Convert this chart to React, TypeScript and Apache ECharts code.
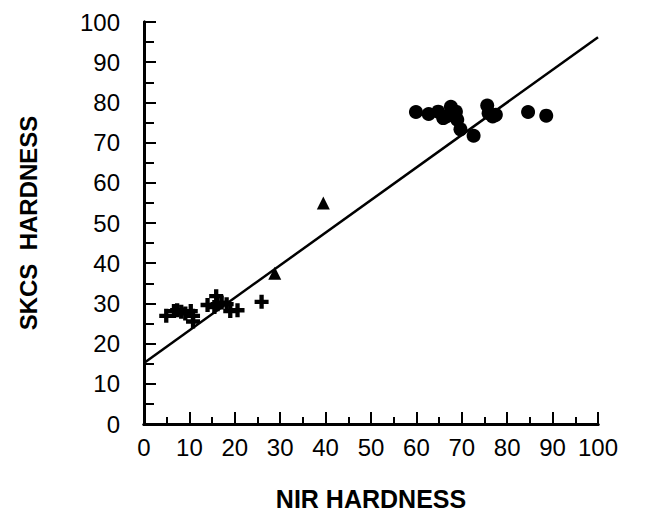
import React, { useEffect, useRef } from "react";
import * as echarts from "echarts";

const xTicks = [0, 10, 20, 30, 40, 50, 60, 70, 80, 90, 100];
const yTicks = [0, 10, 20, 30, 40, 50, 60, 70, 80, 90, 100];

const softWheat: number[][] = [
  [4.9, 26.9], [6.6, 28.1], [7.3, 28.3], [8.2, 27.9], [9.1, 27.5],
  [10.3, 28.1], [10.8, 26.9], [10.8, 25.5], [14.0, 29.6], [15.5, 29.1],
  [15.9, 31.8], [16.2, 29.8], [17.1, 30.2], [18.2, 29.8], [19.0, 28.1],
  [20.6, 28.3], [25.9, 30.4],
];

const intermediate: number[][] = [
  [28.8, 37.5], [39.5, 55.0],
];

const hardWheat: number[][] = [
  [59.9, 77.6], [62.7, 77.1], [64.8, 77.7], [65.9, 76.1], [66.6, 76.5],
  [67.6, 78.9], [68.7, 77.7], [69.0, 75.7], [69.7, 73.3], [72.6, 71.7],
  [75.6, 79.2], [75.9, 77.3], [76.8, 76.5], [77.5, 76.9], [84.6, 77.6],
  [88.6, 76.7],
];

const fitLine: number[][] = [
  [0, 15.2], [100, 96.2],
];

const PLUS = "path://M4.5,0H8.5V4.5H13V8.5H8.5V13H4.5V8.5H0V4.5H4.5Z";

export default function App() {
  const ref = useRef<HTMLDivElement>(null);
  useEffect(() => {
    if (!ref.current) return;
    const chart = echarts.init(ref.current, null, { renderer: "svg" });
    const axisLine = { show: true, lineStyle: { color: "#000", width: 3 } };
    const font = "Liberation Sans, Arial, sans-serif";
    chart.setOption({
      animation: false,
      backgroundColor: "#fff",
      grid: { left: 136, right: 39, top: 14, bottom: 83, containLabel: false },
      xAxis: [
        {
          type: "value",
          min: 0,
          max: 100,
          interval: 10,
          position: "bottom",
          name: "NIR HARDNESS",
          nameLocation: "middle",
          nameGap: 62,
          nameTextStyle: { fontFamily: font, fontWeight: "bold", fontSize: 25, color: "#000" },
          axisLine,
          axisTick: { show: true, inside: true, length: 12, lineStyle: { color: "#000", width: 2 } },
          minorTick: { show: true, splitNumber: 2, length: 7, lineStyle: { color: "#000", width: 2 } },
          splitLine: { show: false },
          axisLabel: {
            margin: 11,
            fontFamily: font,
            fontSize: 24,
            color: "#000",
            formatter: (v: number) => (xTicks.includes(v) ? String(v) : ""),
          },
        },
        {
          type: "value",
          min: 0,
          max: 100,
          position: "top",
          axisLine,
          axisTick: { show: false },
          axisLabel: { show: false },
          splitLine: { show: false },
        },
      ],
      yAxis: [
        {
          type: "value",
          min: 0,
          max: 100,
          interval: 10,
          position: "left",
          name: "SKCS  HARDNESS",
          nameLocation: "middle",
          nameGap: 104,
          nameTextStyle: { fontFamily: font, fontWeight: "bold", fontSize: 24, color: "#000" },
          axisLine,
          axisTick: { show: true, inside: true, length: 12, lineStyle: { color: "#000", width: 2 } },
          minorTick: { show: true, splitNumber: 2, length: 10, lineStyle: { color: "#000", width: 2 } },
          splitLine: { show: false },
          axisLabel: {
            margin: 24,
            fontFamily: font,
            fontSize: 24,
            color: "#000",
            formatter: (v: number) => (yTicks.includes(v) ? String(v) : ""),
          },
        },
        {
          type: "value",
          min: 0,
          max: 100,
          position: "right",
          axisLine,
          axisTick: { show: false },
          axisLabel: { show: false },
          splitLine: { show: false },
        },
      ],
      series: [
        {
          type: "line",
          data: fitLine,
          symbol: "none",
          lineStyle: { color: "#000", width: 2.5 },
          silent: true,
        },
        {
          type: "scatter",
          data: softWheat,
          symbol: PLUS,
          symbolSize: 14,
          itemStyle: { color: "#000", opacity: 1 },
        },
        {
          type: "scatter",
          data: intermediate,
          symbol: "triangle",
          symbolSize: 13,
          itemStyle: { color: "#000", opacity: 1 },
        },
        {
          type: "scatter",
          data: hardWheat,
          symbol: "circle",
          symbolSize: 14,
          itemStyle: { color: "#000", opacity: 1 },
        },
      ],
    });
    return () => chart.dispose();
  }, []);
  return <div ref={ref} style={{ width: 629, height: 508 }} />;
}
